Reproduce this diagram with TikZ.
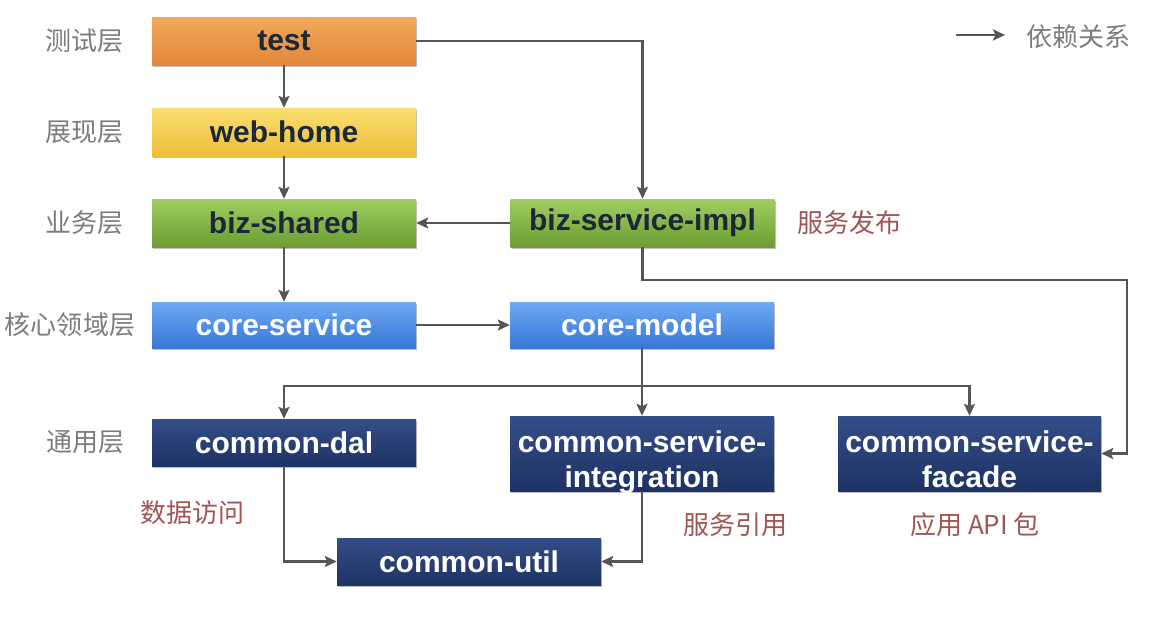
\documentclass[tikz,border=0pt]{standalone}
\usepackage{fontspec}
\setmainfont{Liberation Sans}
\newfontfamily\cjk{Noto Sans CJK SC}
\usetikzlibrary{arrows.meta,shadows,calc}
\definecolor{lblgray}{RGB}{125,125,125}
\definecolor{notered}{RGB}{160,85,85}
\definecolor{linegray}{RGB}{85,85,85}
\definecolor{darktxt}{RGB}{28,40,58}
\definecolor{orT}{RGB}{242,168,90}
\definecolor{orB}{RGB}{226,136,58}
\definecolor{yeT}{RGB}{250,222,112}
\definecolor{yeB}{RGB}{238,190,58}
\definecolor{grT}{RGB}{160,206,96}
\definecolor{grB}{RGB}{108,156,50}
\definecolor{blT}{RGB}{108,170,242}
\definecolor{blB}{RGB}{58,118,214}
\definecolor{nvT}{RGB}{52,78,136}
\definecolor{nvB}{RGB}{30,50,100}
\newcommand{\twoline}[2]{\raisebox{-16pt}[0pt][0pt]{\begin{tabular}{@{}c@{}}#1\\#2\end{tabular}}}
\tikzset{
  box/.style={minimum width=264pt, minimum height=48pt, inner sep=0pt,
    font=\fontsize{30}{35}\selectfont\bfseries, align=center,
    drop shadow={shadow xshift=1.2pt, shadow yshift=-1.8pt, opacity=0.25, fill=black}},
  orbox/.style={box, top color=orT, bottom color=orB, text=darktxt},
  yebox/.style={box, top color=yeT, bottom color=yeB, text=darktxt},
  grbox/.style={box, top color=grT, bottom color=grB, text=darktxt},
  blbox/.style={box, top color=blT, bottom color=blB, text=white},
  nvbox/.style={box, top color=nvT, bottom color=nvB, text=white},
  layer/.style={font=\cjk\fontsize{26}{30}\selectfont, text=lblgray, inner sep=0pt},
  note/.style={font=\cjk\fontsize{26}{30}\selectfont, text=notered, inner sep=0pt},
  dep/.style={draw=linegray, line width=2.4pt, -{Stealth[length=12pt,width=11pt,inset=2.5pt]}}
}
\begin{document}
\begin{tikzpicture}[x=1pt,y=-1pt]
\useasboundingbox[fill=white] (0,0) rectangle (1158,622);
% layer labels
\node[layer] (l1) at (84,41) {测试层};
\node[layer] (l2) at (84,132) {展现层};
\node[layer] (l3) at (84,223) {业务层};
\node[layer] (l4) at (70,325) {核心领域层};
\node[layer] (l5) at (85,442) {通用层};
% boxes
\node[orbox] (test) at (284,41) {test};
\node[yebox] (web) at (284,132) {web-home};
\node[grbox] (bs) at (284,223) {biz-shared};
\node[grbox] (bsi) at (642.5,223) {biz-service-impl};
\node[blbox, minimum height=46pt] (cs) at (284,325) {core-service};
\node[blbox, minimum height=46pt] (cm) at (642,325) {core-model};
\node[nvbox, minimum height=47pt] (dal) at (284,442.5) {common-dal};
\node[nvbox, minimum height=75pt] (int) at (642,453.5) {\twoline{common-service-}{integration}};
\node[nvbox, minimum height=75pt, minimum width=263pt] (fac) at (969.5,453.5) {\twoline{common-service-}{facade}};
\node[nvbox, minimum height=47pt] (util) at (469,561.5) {common-util};
% notes
\node[note, anchor=west] (n1) at (797,223) {服务发布};
\node[note, anchor=west] (n2) at (140,513) {数据访问};
\node[note, anchor=west] (n3) at (683,525) {服务引用};
\node[note, anchor=west] (n4) at (910,525) {应用 API 包};
% legend
\coordinate (lgA) at (956,35);
\coordinate (lgB) at (1005,35);
\draw[dep] (lgA) -- (lgB);
\node[layer, anchor=west] (lg) at (1026,37) {依赖关系};
% junctions
\coordinate (j1) at (642,386);
\coordinate (r1) at (1127,280);
% connectors
\draw[dep] (test) -- (web);
\draw[dep] (web) -- (bs);
\draw[dep] (test.east) -| (bsi.north);
\draw[dep] (bsi) -- (bs);
\draw[dep] (bs) -- (cs);
\draw[dep] (cs) -- (cm);
\draw[dep] (cm.south) -- (j1) -| (dal.north);
\draw[dep] (j1) -- (int.north);
\draw[dep] (j1) -| (fac.north);
\draw[dep] (bsi.south) |- (r1) |- (fac.east);
\draw[dep] (dal.south) |- (util.west);
\draw[dep] (int.south) |- (util.east);
\end{tikzpicture}
\end{document}
